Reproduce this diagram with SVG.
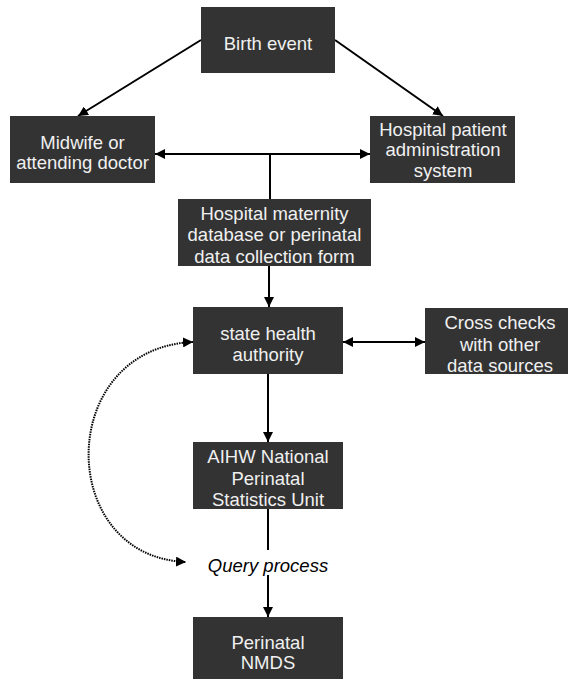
<svg xmlns="http://www.w3.org/2000/svg" width="568" height="680" viewBox="0 0 568 680">
<style>
.box{fill:#333333}
.t{font-family:"Liberation Sans",Arial,sans-serif;font-size:18.5px;fill:#f0f0f0;text-anchor:middle}
.q{font-family:"Liberation Sans",Arial,sans-serif;font-size:18.5px;font-style:italic;fill:#000;text-anchor:middle}
.ln{stroke:#000;stroke-width:2;fill:none}
.dot{stroke:#000;stroke-width:2;fill:none;stroke-dasharray:1.5 1}
</style>
<defs>
<marker id="ah" viewBox="0 0 10 10" refX="10" refY="5" markerWidth="10" markerHeight="10" markerUnits="userSpaceOnUse" orient="auto-start-reverse">
<path d="M0,0 L10,5 L0,10 z" fill="#000"/>
</marker>
</defs>
<rect width="568" height="680" fill="#fff"/>
<g id="connectors">
<line class="ln" x1="201" y1="40" x2="78" y2="116" marker-end="url(#ah)"/>
<line class="ln" x1="335" y1="40" x2="443" y2="116" marker-end="url(#ah)"/>
<line class="ln" x1="155" y1="154" x2="370" y2="154" marker-start="url(#ah)" marker-end="url(#ah)"/>
<line class="ln" x1="270" y1="154" x2="270" y2="199"/>
<line class="ln" x1="269" y1="266" x2="269" y2="307" marker-end="url(#ah)"/>
<line class="ln" x1="343" y1="342" x2="425" y2="342" marker-start="url(#ah)" marker-end="url(#ah)"/>
<line class="ln" x1="268" y1="374" x2="268" y2="442" marker-end="url(#ah)"/>
<line class="ln" x1="268" y1="509" x2="268" y2="550"/>
<line class="ln" x1="268" y1="575" x2="268" y2="617" marker-end="url(#ah)"/>
<path class="dot" d="M193 342 C55 348,55 557,186 562" marker-start="url(#ah)" marker-end="url(#ah)"/>
</g>
<g id="birth">
<rect class="box" x="201" y="7" width="134" height="66"/>
<text class="t" x="268" y="49.5">Birth event</text>
</g>
<g id="midwife">
<rect class="box" x="10" y="116" width="145" height="67"/>
<text class="t" x="82.5" y="148.5">Midwife or</text>
<text class="t" x="82.5" y="169">attending doctor</text>
</g>
<g id="hpas">
<rect class="box" x="370" y="116" width="145" height="67"/>
<text class="t" x="443" y="135.5">Hospital patient</text>
<text class="t" x="443" y="156">administration</text>
<text class="t" x="443" y="177">system</text>
</g>
<g id="maternity">
<rect class="box" x="178" y="199" width="193" height="67"/>
<text class="t" x="274.5" y="219.5">Hospital maternity</text>
<text class="t" x="274.5" y="241">database or perinatal</text>
<text class="t" x="274.5" y="262.5">data collection form</text>
</g>
<g id="state">
<rect class="box" x="193" y="307" width="150" height="67"/>
<text class="t" x="268" y="339.5">state health</text>
<text class="t" x="268" y="360.5">authority</text>
</g>
<g id="cross">
<rect class="box" x="425" y="308" width="143" height="66"/>
<text class="t" x="500" y="328.5">Cross checks</text>
<text class="t" x="500" y="350.5">with other</text>
<text class="t" x="500" y="372">data sources</text>
</g>
<g id="aihw">
<rect class="box" x="193" y="442" width="150" height="67"/>
<text class="t" x="268" y="462.5">AIHW National</text>
<text class="t" x="268" y="484.5">Perinatal</text>
<text class="t" x="268" y="505.5">Statistics Unit</text>
</g>
<g id="query">
<text class="q" x="268" y="571.5">Query process</text>
</g>
<g id="nmds">
<rect class="box" x="193" y="617" width="150" height="62"/>
<text class="t" x="268" y="648.5">Perinatal</text>
<text class="t" x="268" y="668.5">NMDS</text>
</g>
</svg>
